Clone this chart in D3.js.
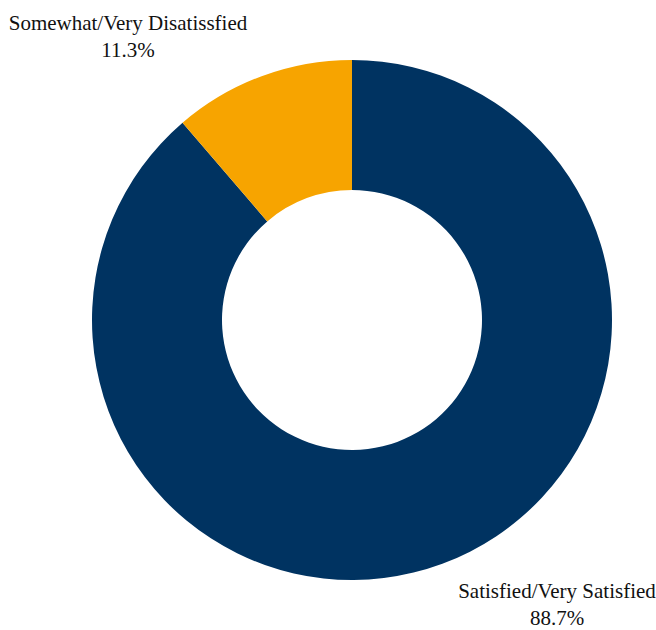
<!DOCTYPE html>
<html>
<head>
<meta charset="utf-8">
<script src="https://cdn.jsdelivr.net/npm/d3@7"></script>
<style>
  body { margin: 0; background: #fff; }
</style>
</head>
<body>
<div class="d3-wrapper"></div>
<script>
const WIDTH = 656, HEIGHT = 630;
const CENTER = { x: 352, y: 320 };
const OUTER_R = 260, INNER_R = 130;

const categories = ['Satisfied/Very Satisfied', 'Somewhat/Very Disatissfied'];
const values = [88.7, 11.3];
const colors = ['#003361', '#F7A400'];
// label positions: center x, baseline of first line
const labelPos = [[557, 598], [128, 30]];

const data = categories.map((c, i) => ({ name: c, value: values[i], pos: labelPos[i] }));

const svg = d3.select('.d3-wrapper').append('svg')
  .attr('width', WIDTH)
  .attr('height', HEIGHT);

const pie = d3.pie().sort(null).value(d => d.value);
const arc = d3.arc().innerRadius(INNER_R).outerRadius(OUTER_R);

const g = svg.append('g')
  .attr('transform', `translate(${CENTER.x},${CENTER.y})`);

g.selectAll('path')
  .data(pie(data))
  .enter().append('path')
  .attr('d', arc)
  .style('fill', (d, i) => colors[i]);

// two lines per label: name, then percentage
const lines = data.flatMap(d => [
  { text: d.name, x: d.pos[0], y: d.pos[1] },
  { text: d.value.toFixed(1) + '%', x: d.pos[0], y: d.pos[1] + 27 }
]);

svg.selectAll('.label')
  .data(lines)
  .enter().append('text')
  .attr('class', 'label')
  .attr('x', d => d.x)
  .attr('y', d => d.y)
  .attr('text-anchor', 'middle')
  .attr('font-size', 21)
  .style('font-family', "'Liberation Serif'")
  .style('fill', '#111')
  .text(d => d.text);
</script>
</body>
</html>
